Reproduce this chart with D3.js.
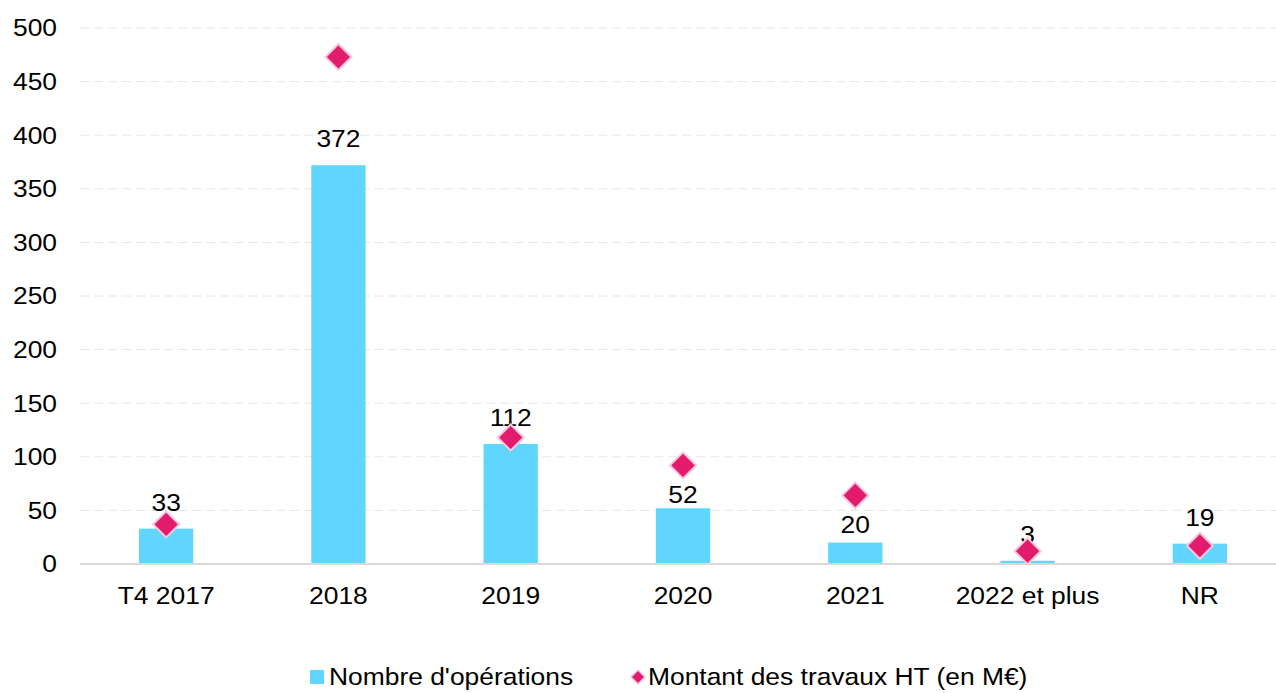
<!DOCTYPE html>
<html>
<head>
<meta charset="utf-8">
<script src="https://cdn.jsdelivr.net/npm/d3@7"></script>
<style>
  body { margin: 0; background: #fff; }
  text { font-family: "Liberation Sans", Arial, sans-serif; fill: #000; font-size: 24px; }
</style>
</head>
<body>
<svg id="chart" width="1276" height="693"></svg>
<script>
// data
var categories = ["T4 2017", "2018", "2019", "2020", "2021", "2022 et plus", "NR"];
var operations = [33, 372, 112, 52, 20, 3, 19];
var montants = [37, 473, 118, 92, 64, 12, 17];
var yTicks = [0, 50, 100, 150, 200, 250, 300, 350, 400, 450, 500];
var seriesNames = ["Nombre d'opérations", "Montant des travaux HT (en M€)"];

var svg = d3.select("#chart");
var plotLeft = 80, plotRight = 1286, plotTop = 28, plotBottom = 564;
var stretch = 1.1;
// a couple of labels were dragged down in the original
var labelNudge = { "2020": 13, "2021": 8 };

var x = d3.scaleBand().domain(categories).range([plotLeft, plotRight]).paddingInner(0.685).paddingOuter(0.3425);
var y = d3.scaleLinear().domain([0, 500]).range([plotBottom, plotTop]);

function place(px, py) {
  return "translate(" + px + "," + py + ") scale(" + stretch + ",1)";
}

// gridlines
svg.append("g").selectAll("line").data(yTicks.filter(function(d) { return d > 0; })).enter().append("line")
  .attr("x1", plotLeft).attr("x2", 1276)
  .attr("y1", function(d) { return y(d); }).attr("y2", function(d) { return y(d); })
  .style("stroke", "#e6e6e6").style("stroke-width", 1).style("stroke-dasharray", "9,5");

// y labels
svg.append("g").selectAll("text").data(yTicks).enter().append("text")
  .attr("transform", function(d) { return place(57, y(d)); })
  .attr("dy", "0.35em").attr("text-anchor", "end")
  .text(function(d) { return d; });

// bars
svg.append("g").selectAll("rect").data(operations).enter().append("rect")
  .attr("x", function(d, i) { return x(categories[i]); })
  .attr("width", x.bandwidth())
  .attr("y", function(d) { return y(d); })
  .attr("height", function(d) { return plotBottom - y(d); })
  .style("fill", "#5fd5ff");

// axis line
svg.append("line").attr("x1", plotLeft).attr("x2", 1276).attr("y1", plotBottom).attr("y2", plotBottom)
  .style("stroke", "#d9d9d9").style("stroke-width", 2);

// category labels
svg.append("g").selectAll("text").data(categories).enter().append("text")
  .attr("transform", function(d) { return place(x(d) + x.bandwidth()/2, 596); })
  .attr("dy", "0.35em").attr("text-anchor", "middle")
  .text(function(d) { return d; });

// bar value labels
svg.append("g").selectAll("text").data(operations).enter().append("text")
  .attr("transform", function(d, i) {
    var nudge = labelNudge[categories[i]] || 0;
    return place(x(categories[i]) + x.bandwidth()/2, y(d) - 18 + nudge);
  })
  .attr("text-anchor", "middle")
  .text(function(d) { return d; });

// diamonds
var diamond = "M0,-13L13,0L0,13L-13,0Z";
svg.append("g").selectAll("path").data(montants).enter().append("path")
  .attr("d", diamond)
  .attr("transform", function(d, i) { return "translate(" + (x(categories[i]) + x.bandwidth()/2) + "," + y(d) + ")"; })
  .style("fill", "#e31b6d").style("stroke", "#f9c6de").style("stroke-width", 2);

// legend
var legend = svg.append("g");
legend.append("rect").attr("x", 310).attr("y", 670).attr("width", 14).attr("height", 14).style("fill", "#5fd5ff");
legend.append("text").attr("transform", place(329, 677)).attr("dy", "0.35em").text(seriesNames[0]);
legend.append("path").attr("d", "M0,-7L7,0L0,7L-7,0Z").attr("transform", "translate(638,677)")
  .style("fill", "#e31b6d").style("stroke", "#f9c6de").style("stroke-width", 1.5);
legend.append("text").attr("transform", place(648, 677)).attr("dy", "0.35em").text(seriesNames[1]);
</script>
</body>
</html>
